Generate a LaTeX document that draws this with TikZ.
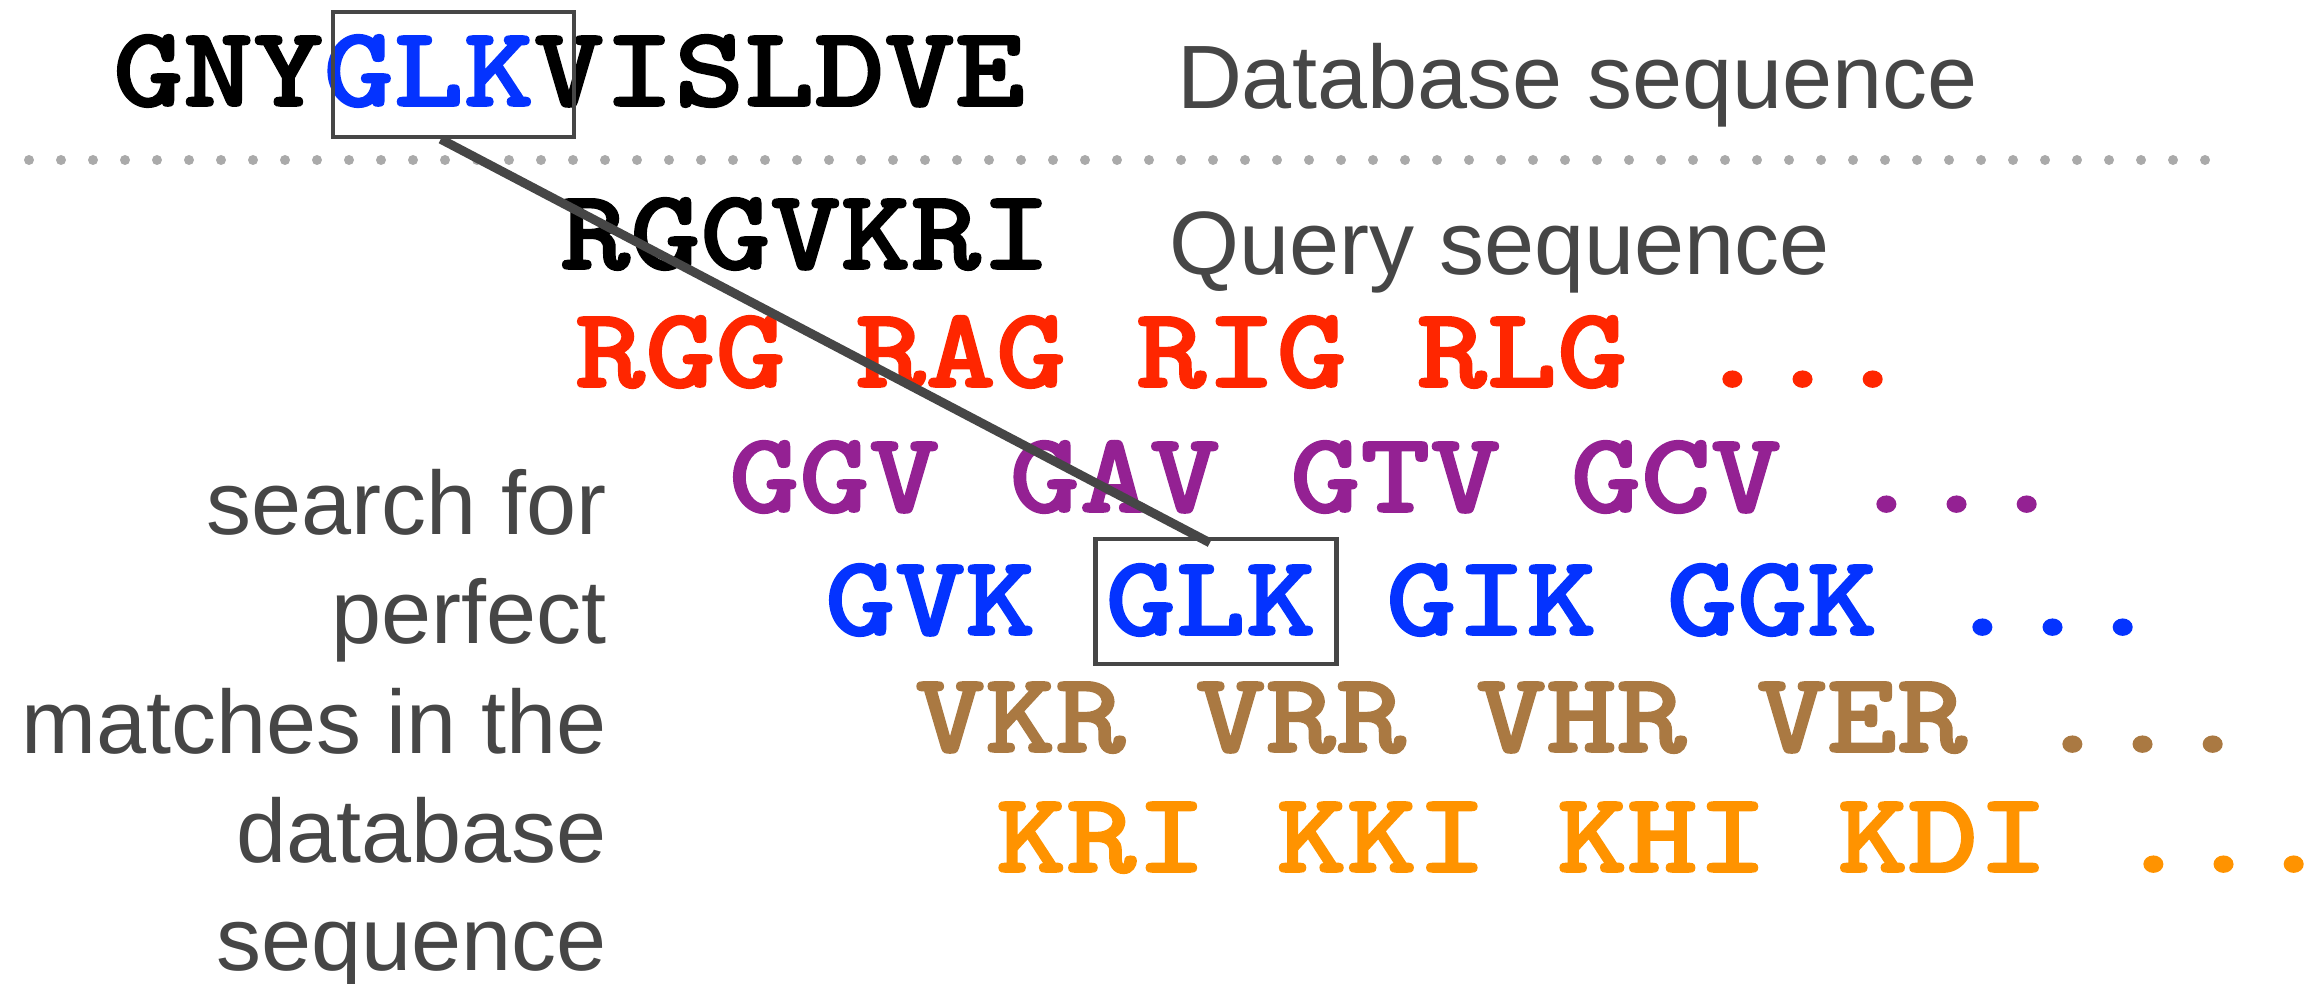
\documentclass[tikz,border=0pt]{standalone}
\usepackage{fontspec}
\setmainfont{Liberation Sans}
\newfontfamily\seqfont{lmmonolt10-bold.otf}[FakeStretch=1.166, FakeBold=1.5]
\usetikzlibrary{calc}
\definecolor{txtgray}{HTML}{464646}
\definecolor{dotgray}{HTML}{AAAAAA}
\definecolor{seqblue}{HTML}{0433FF}
\definecolor{seqred}{HTML}{FF2600}
\definecolor{seqpurple}{HTML}{942193}
\definecolor{seqbrown}{HTML}{AA7942}
\definecolor{seqorange}{HTML}{FF9300}
\tikzset{
  seq/.style={anchor=base west, inner sep=0pt, outer sep=0pt,
    font=\seqfont\fontsize{57.3}{60}\selectfont},
  lab/.style={anchor=base west, inner sep=0pt, outer sep=0pt, text=txtgray,
    font=\fontsize{45}{54}\selectfont},
  side/.style={anchor=base east, inner sep=0pt, outer sep=0pt, text=txtgray,
    font=\fontsize{45}{54}\selectfont},
  hitbox/.style={draw=txtgray, line width=2.2pt, inner sep=0pt,
    minimum width=120.5pt, minimum height=62.5pt},
  link/.style={draw=txtgray, line width=4.5pt},
}
\begin{document}
\begin{tikzpicture}[x=0.5pt, y=-0.5pt]
\useasboundingbox (0,0) rectangle (2317,984);
% database sequence
\node[seq] (db) at (113,106) {GNY\textcolor{seqblue}{GLK}VISLDVE};
\node[lab] (dblab) at (1177,109) {Database sequence};
% separator
\foreach \i in {0,...,68} \fill[dotgray] (29+32*\i,160) circle[radius=5];
% query
\node[seq] (query) at (560,269) {RGGVKRI};
\node[lab] (qlab) at (1169,275) {Query sequence};
% words
\node[seq, text=seqred] (w1) at (575,387) {RGG RAG RIG RLG ...};
\node[seq, text=seqpurple] (w2) at (729,512) {GGV GAV GTV GCV ...};
\node[seq, text=seqblue] (w3) at (825,635) {GVK GLK GIK GGK ...};
\node[seq, text=seqbrown] (w4) at (915,752) {VKR VRR VHR VER ...};
\node[seq, text=seqorange] (w5) at (996,872) {KRI KKI KHI KDI ...};
% side text
\node[side] (s1) at (607,534) {search for};
\node[side] (s2) at (607,643) {perfect};
\node[side] (s3) at (607,753) {matches in the};
\node[side] (s4) at (607,862) {database};
\node[side] (s5) at (607,970) {sequence};
% boxes
\node[hitbox] (tbox) at (453.5,74.5) {};
\node[hitbox] (bbox) at (1216,601.5) {};
% connector
\coordinate (cstart) at ($(tbox.south west)!0.448!(tbox.south east)$);
\coordinate (cend) at ($(bbox.north west)!0.475!(bbox.north east)+(0,6)$);
\draw[link] (cstart) -- (cend);
\end{tikzpicture}
\end{document}
